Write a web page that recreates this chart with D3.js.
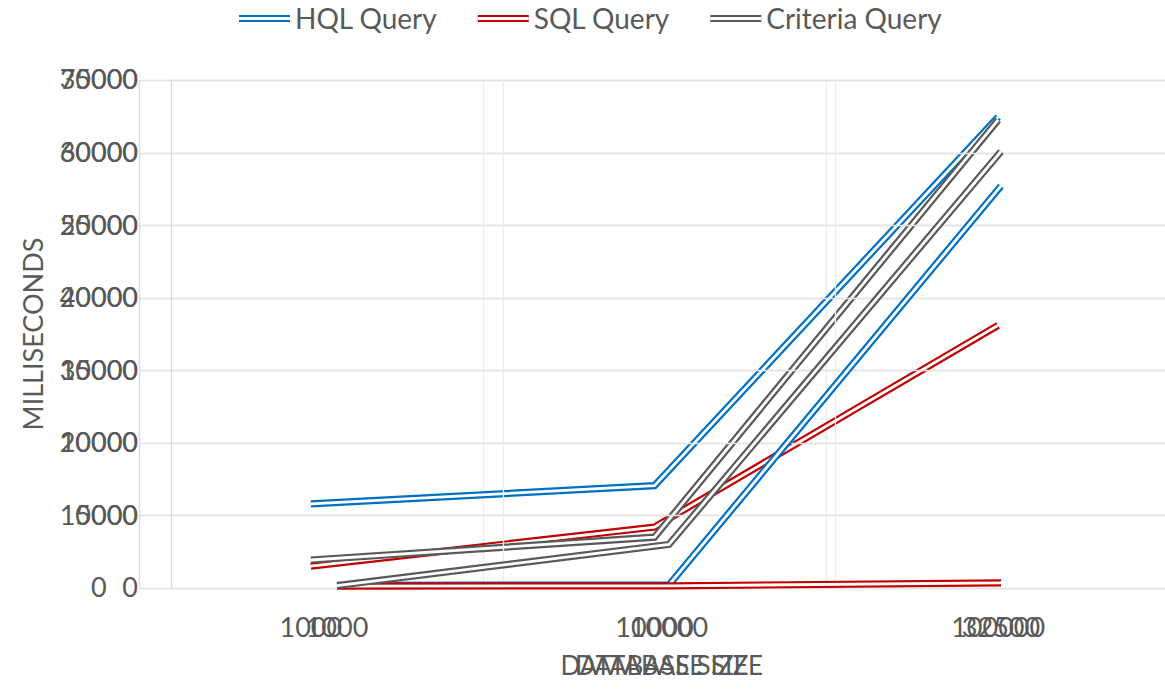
<!DOCTYPE html>
<html>
<head>
<meta charset="utf-8">
<script src="https://cdn.jsdelivr.net/npm/d3@7"></script>
<style>
  body { margin: 0; background: #fff; }
  text { font-family: Lato, 'Noto Sans', sans-serif; fill: #595959; }
</style>
</head>
<body>
<svg id="chart" width="1165" height="690"></svg>
<script>
// two charts were pasted on top of each other, so everything comes in pairs
var categoriesA = ['1000', '10000', '100000']
var categoriesB = ['1000', '10000', '32500']
var yTicksA = [0, 5000, 10000, 15000, 20000, 25000, 30000, 35000]
var yTicksB = [0, 10000, 20000, 30000, 40000, 50000, 60000, 70000]

var hqlA = [5800, 7050, 32450]
var sqlA = [1500, 4200, 18100]
var criteriaA = [1930, 3500, 32250]

var hqlB = [350, 420, 55400]
var sqlB = [270, 300, 700]
var criteriaB = [340, 6000, 60150]

var seriesNames = ['HQL Query', 'SQL Query', 'Criteria Query']
var seriesColors = ['#0070c0', '#c00000', '#595959']

var svg = d3.select('#chart')
var plotTop = 80
var plotBottom = 588

function drawChart (cats, yTicks, series, left, right, zeroLabel) {
  var x = d3.scaleBand().domain(cats).range([left, right])
  var y = d3.scaleLinear().domain([0, yTicks[yTicks.length - 1]]).range([plotBottom, plotTop])
  var g = svg.append('g')

  // horizontal gridlines
  g.selectAll('.hgrid').data(yTicks).enter().append('line')
    .attr('x1', left).attr('x2', 1165)
    .attr('y1', function (d) { return Math.round(y(d)) + 0.5 })
    .attr('y2', function (d) { return Math.round(y(d)) + 0.5 })
    .attr('stroke', '#e3e3e3').attr('stroke-width', 1.3)

  // vertical gridlines at category boundaries
  g.selectAll('.vgrid').data(cats).enter().append('line')
    .attr('x1', function (d) { return Math.round(x(d)) + 0.5 })
    .attr('x2', function (d) { return Math.round(x(d)) + 0.5 })
    .attr('y1', plotTop).attr('y2', plotBottom)
    .attr('stroke', function (d, i) { return i === 0 ? '#d9d9d9' : '#ececec' })
    .attr('stroke-width', 1.3)

  // y labels
  g.selectAll('.ylab').data(yTicks).enter().append('text')
    .attr('x', 138).attr('y', function (d) { return y(d) })
    .attr('dy', '0.35em')
    .attr('text-anchor', 'end')
    .style('font-size', '27px')
    .text(function (d) { return d === 0 ? zeroLabel : d })

  // x labels
  g.selectAll('.xlab').data(cats).enter().append('text')
    .attr('x', function (d) { return x(d) + x.bandwidth() / 2 })
    .attr('y', 628).attr('dy', '0.35em')
    .attr('text-anchor', 'middle')
    .style('font-size', '27px')
    .text(function (d) { return d })

  g.append('text')
    .attr('x', (left + right) / 2).attr('y', 666).attr('dy', '0.35em')
    .attr('text-anchor', 'middle')
    .style('font-size', '26px')
    .text('DATABASE SIZE')

  var line = d3.line()
    .x(function (d, i) { return x(cats[i]) + x.bandwidth() / 2 })
    .y(function (d) { return y(d) })

  series.forEach(function (vals, i) {
    g.append('path').attr('d', line(vals))
      .attr('fill', 'none').attr('stroke', seriesColors[i])
      .attr('stroke-width', 7.2).attr('stroke-linejoin', 'miter')
    g.append('path').attr('d', line(vals))
      .attr('fill', 'none').attr('stroke', '#fff')
      .attr('stroke-width', 2.8).attr('stroke-linejoin', 'miter')
  })
}

drawChart(categoriesA, yTicksA, [hqlA, sqlA, criteriaA], 139, 1170, '0')
drawChart(categoriesB, yTicksB, [hqlB, sqlB, criteriaB], 171, 1167, '0\u2007\u2007')

svg.append('text')
  .attr('transform', 'translate(34,334) rotate(-90)')
  .attr('dy', '0.35em')
  .attr('text-anchor', 'middle')
  .style('font-size', '27px')
  .text('MILLISECONDS')

// legend
var lx = 239
seriesNames.forEach(function (name, i) {
  svg.append('line').attr('x1', lx).attr('x2', lx + 51).attr('y1', 18.5).attr('y2', 18.5)
    .attr('stroke', seriesColors[i]).attr('stroke-width', 7.2)
  svg.append('line').attr('x1', lx).attr('x2', lx + 51).attr('y1', 18.5).attr('y2', 18.5)
    .attr('stroke', '#fff').attr('stroke-width', 2.8)
  var t = svg.append('text').attr('x', lx + 56).attr('y', 19).attr('dy', '0.35em')
    .style('font-size', '28px').text(name)
  lx = lx + 56 + t.node().getComputedTextLength() + 41
})
</script>
</body>
</html>
